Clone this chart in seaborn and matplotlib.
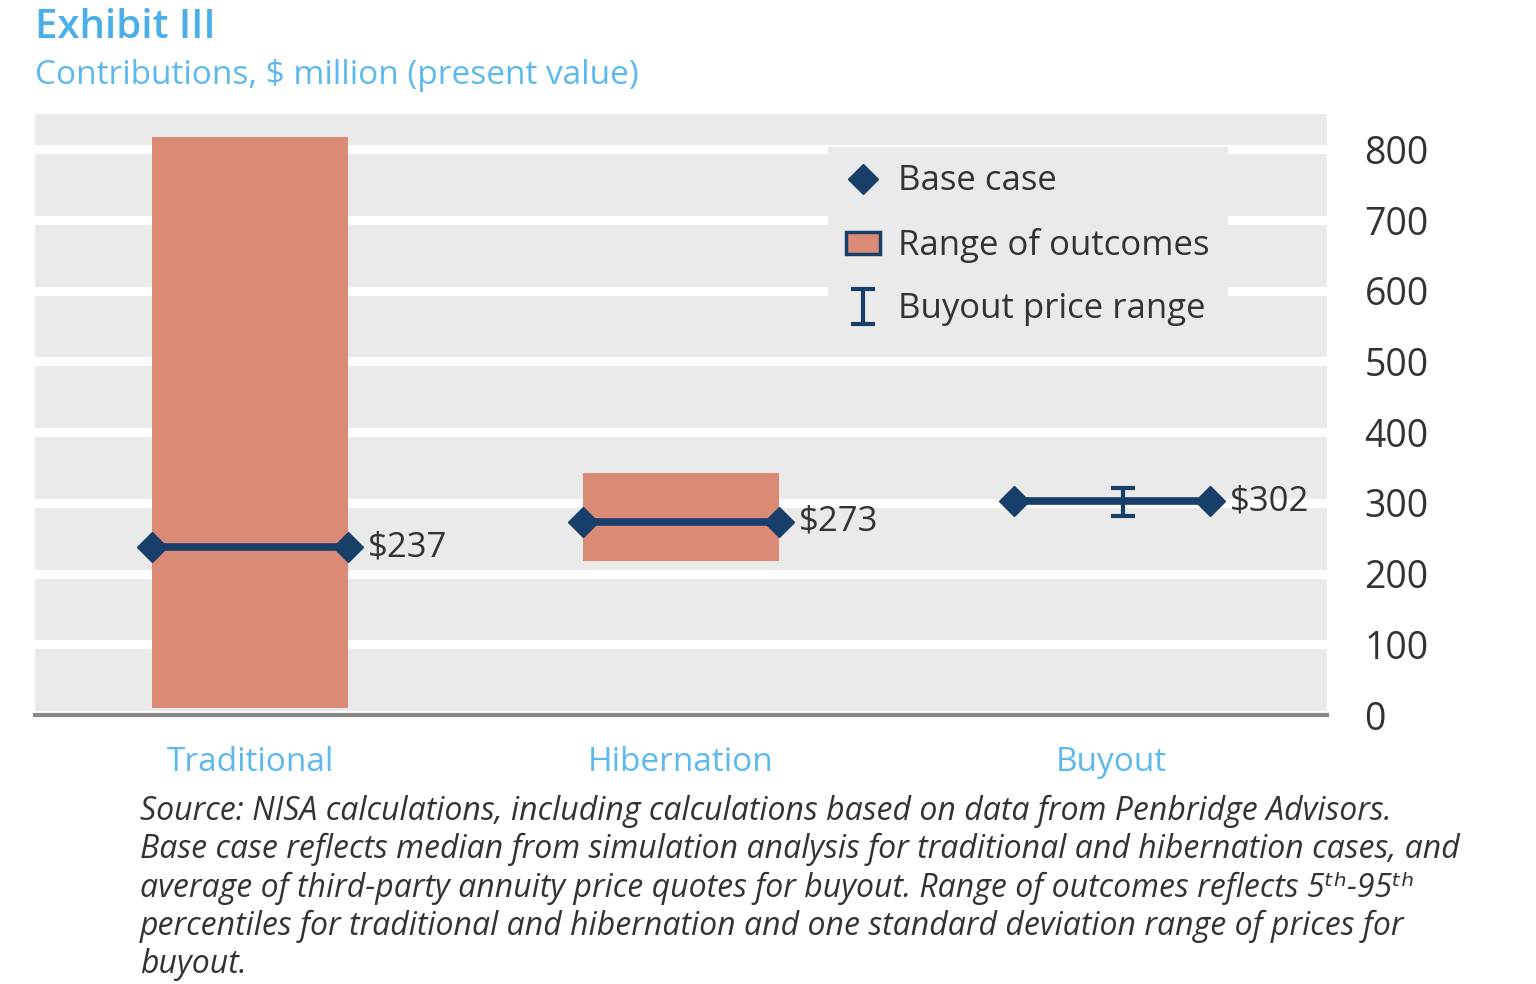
import matplotlib
matplotlib.use("Agg")
import matplotlib.pyplot as plt
import seaborn as sns
import pandas as pd
from matplotlib.lines import Line2D
from matplotlib.patches import Patch

categories = ["Traditional", "Hibernation", "Buyout"]
range_cats = ["Traditional", "Hibernation"]
range_low = [10, 218]
range_high = [818, 342]
base_case = [237, 273, 302]
buyout_low = 281
buyout_high = 321
ytick_values = [0, 100, 200, 300, 400, 500, 600, 700, 800]

# Colours
SALMON = "#DB8A75"
NAVY = "#173F69"
BLUE = "#4AAEE8"
LIGHT_BLUE = "#5CB9EE"
GRAY_BG = "#EAEAEA"
TEXT = "#333333"

sns.set_theme(style="white")
plt.rcParams["font.family"] = ["Open Sans", "DejaVu Sans"]

fig = plt.figure(figsize=(15.36, 9.84), dpi=100)
ax = fig.add_axes([35 / 1536, 1 - 715 / 984, (1327 - 35) / 1536, (715 - 114) / 984])
ax.set_facecolor(GRAY_BG)

# Range of outcomes bars
df = pd.DataFrame({"case": range_cats,
                   "span": [h - l for h, l in zip(range_high, range_low)]})
sns.barplot(data=df, x="case", y="span", order=categories, color=SALMON,
            saturation=1, width=0.455, bottom=range_low, linewidth=0,
            ax=ax, zorder=2)

# Base case lines with diamond ends
half = 0.455 / 2
for i, val in enumerate(base_case):
    ax.plot([i - half, i + half], [val, val], color=NAVY, lw=5.5,
            marker="D", ms=15, solid_capstyle="butt", zorder=4)
    ax.text(i + half + 0.046, val, f"\\${val}", fontsize=25, color=TEXT,
            va="center", ha="left", zorder=5)

# Buyout price range
eb = ax.errorbar([2 + 0.026], [base_case[2]],
                 yerr=[[base_case[2] - buyout_low], [buyout_high - base_case[2]]],
                 fmt="none", ecolor=NAVY, elinewidth=3, capsize=8.5, capthick=3,
                 zorder=5, label="Buyout price range")

ax.set_xlim(-0.5, 2.5)
ax.set_ylim(0, 850)
ax.set_xlabel("")
ax.set_ylabel("")

# y axis on the right
ax.yaxis.tick_right()
ax.set_yticks(ytick_values)
ax.set_yticklabels([str(v) for v in ytick_values], fontsize=27, color=TEXT)
ax.tick_params(axis="y", length=0, pad=27)
ax.yaxis.grid(True, color="white", lw=6.5)
ax.set_axisbelow(True)

# x axis
ax.set_xticks(range(len(categories)))
ax.set_xticklabels(categories, fontsize=24, color=LIGHT_BLUE)
ax.tick_params(axis="x", length=0, pad=22)
ax.set_xticks([-0.5, 0.5, 1.5, 2.5], minor=True)
ax.tick_params(axis="x", which="minor", direction="in", length=8, width=2.2,
               color="#888888")

for side in ["top", "left", "right"]:
    ax.spines[side].set_visible(False)
ax.spines["bottom"].set_color("#888888")
ax.spines["bottom"].set_linewidth(3)

# Legend
handles = [
    Line2D([], [], color=NAVY, marker="D", ms=15, lw=0),
    Patch(facecolor=SALMON, edgecolor=NAVY, linewidth=2.5),
    eb,
]
labels = ["Base case", "Range of outcomes", "Buyout price range"]
leg = ax.legend(handles, labels, loc="upper left", bbox_to_anchor=(0.614, 0.945),
                borderaxespad=0, frameon=True, facecolor=GRAY_BG, edgecolor=GRAY_BG,
                framealpha=1, fancybox=False, fontsize=25, labelspacing=0.85,
                handlelength=1.0, handleheight=0.6, handletextpad=0.5,
                borderpad=0.5)
for t in leg.get_texts():
    t.set_color(TEXT)

# Titles
fig.text(35 / 1536, 1 - 28 / 984, "Exhibit III", fontsize=29, color=BLUE,
         va="center", ha="left", fontweight="semibold")
fig.text(35 / 1536, 1 - 75 / 984, "Contributions, $ million (present value)",
         fontsize=24, color=LIGHT_BLUE, va="center", ha="left")

# Source note
note = ("Source: NISA calculations, including calculations based on data from Penbridge Advisors.\n"
        "Base case reflects median from simulation analysis for traditional and hibernation cases, and\n"
        "average of third-party annuity price quotes for buyout. Range of outcomes reflects 5\u1d57\u02b0-95\u1d57\u02b0\n"
        "percentiles for traditional and hibernation and one standard deviation range of prices for\n"
        "buyout.")
fig.text(140 / 1536, 1 - 795 / 984, note, fontsize=23, color=TEXT, style="italic",
         va="top", ha="left", linespacing=1.2)

fig.savefig("out.png", dpi=100)
